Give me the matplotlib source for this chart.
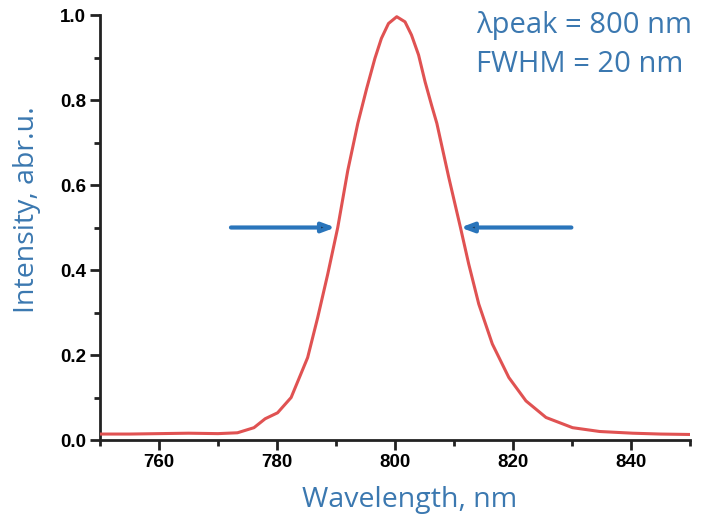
import matplotlib
matplotlib.use("Agg")
import matplotlib.pyplot as plt
from matplotlib.ticker import MultipleLocator, FormatStrFormatter

RED = '#e05252'
BLUE = '#3b78b0'
ARROW = '#2a75bb'

# spectrum
wavelength = [750, 755, 760, 765, 770, 773.3, 776.1, 778.0, 780.1, 782.4, 785.2,
              786.9, 788.6, 790.3, 792.0, 793.7, 795.2, 796.6, 797.7, 798.9,
              800.3, 801.7, 802.8, 804.0, 805.1, 806.2, 807.1, 809.1, 811.1,
              812.5, 814.2, 816.5, 819.3, 822.2, 825.6, 830.1, 834.7, 840.3,
              845, 850]
intensity = [0.014, 0.014, 0.015, 0.016, 0.015, 0.017, 0.029, 0.050, 0.064,
             0.100, 0.194, 0.288, 0.390, 0.500, 0.634, 0.745, 0.827, 0.898,
             0.945, 0.980, 0.996, 0.984, 0.953, 0.906, 0.843, 0.788, 0.745,
             0.619, 0.500, 0.414, 0.320, 0.226, 0.147, 0.092, 0.053, 0.029,
             0.020, 0.016, 0.014, 0.013]

half_max = 0.5
left_arrow = (772.2, 789.9)
right_arrow = (829.9, 811.1)

plt.rcParams['font.family'] = 'Liberation Sans'
plt.rcParams['font.weight'] = 'bold'

fig = plt.figure(figsize=(7.06, 5.25), dpi=100)
ax = fig.add_axes([0.1416, 0.1619, 0.8357, 0.8095])

ax.plot(wavelength, intensity, color=RED, lw=2.2, zorder=3)

for x0, x1 in (left_arrow, right_arrow):
    ax.annotate('', xy=(x1, half_max), xytext=(x0, half_max),
                arrowprops=dict(arrowstyle='-|>,head_length=0.75,head_width=0.28',
                                lw=3, shrinkA=0, shrinkB=0,
                                fc='#1d3550', ec=ARROW), zorder=4)

ax.set_xlim(750, 850)
ax.set_ylim(0, 1.0)
ax.set_xticks([760, 780, 800, 820, 840])
ax.xaxis.set_minor_locator(MultipleLocator(10))
ax.yaxis.set_major_locator(MultipleLocator(0.2))
ax.yaxis.set_minor_locator(MultipleLocator(0.1))
ax.yaxis.set_major_formatter(FormatStrFormatter('%.1f'))

for s in ('top', 'right'):
    ax.spines[s].set_visible(False)
for s in ('left', 'bottom'):
    ax.spines[s].set_linewidth(2)
    ax.spines[s].set_color('#222222')

ax.tick_params(which='major', direction='out', length=7, width=2, color='#222222',
               labelsize=13.5, pad=3)
ax.tick_params(which='minor', direction='out', length=4, width=2, color='#222222')

ax.set_xlabel('Wavelength, nm', fontsize=20.5, color=BLUE, family='Open Sans',
              fontweight='normal')
ax.set_ylabel('Intensity, abr.u.', fontsize=20.5, color=BLUE, family='Open Sans',
              fontweight='normal')
ax.xaxis.set_label_coords(0.525, -0.108)
ax.yaxis.set_label_coords(-0.100, 0.542)

ax.text(0.638, 0.9575, 'λpeak = 800 nm', transform=ax.transAxes, fontsize=21,
        color=BLUE, family='Open Sans', fontweight='normal', ha='left', va='baseline')
ax.text(0.638, 0.8656, 'FWHM = 20 nm', transform=ax.transAxes, fontsize=21,
        color=BLUE, family='Open Sans', fontweight='normal', ha='left', va='baseline')

fig.savefig('out.png', dpi=100)
